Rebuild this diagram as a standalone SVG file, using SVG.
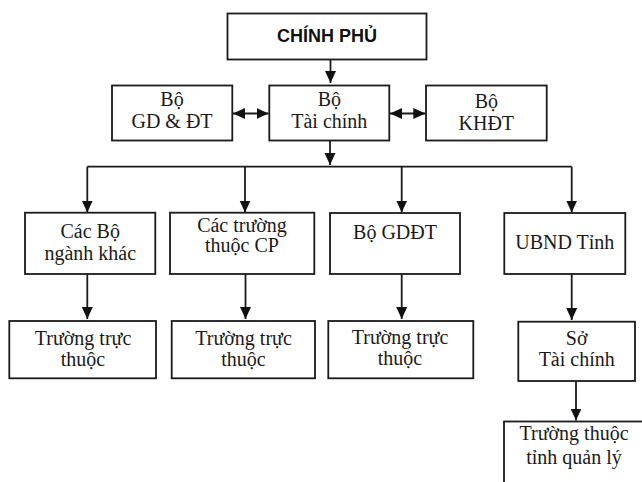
<svg xmlns="http://www.w3.org/2000/svg" width="642" height="482" viewBox="0 0 642 482">
<style>
.box{fill:#fff;stroke:#1a1a1a;stroke-width:1.8}
.t{font-family:"Liberation Serif","Times New Roman",serif;font-size:20px;fill:#1a1a1a;text-anchor:middle}
.h{font-family:"Liberation Sans",Arial,sans-serif;font-size:18px;font-weight:bold;fill:#111;text-anchor:middle}
.ln{fill:none;stroke:#1a1a1a;stroke-width:1.8}
</style>
<defs>
<marker id="ah" viewBox="0 0 12 12" refX="12" refY="6" markerWidth="12" markerHeight="12" markerUnits="userSpaceOnUse" orient="auto-start-reverse">
<path d="M0,0.5 L12,6 L0,11.5 z" fill="#111"/>
</marker>
</defs>
<rect width="642" height="482" fill="#fff"/>
<g id="connectors">
<path class="ln" d="M330.5 60 V83" marker-end="url(#ah)"/>
<path class="ln" d="M330 140 V165" marker-end="url(#ah)"/>
<path class="ln" d="M87.3 166.7 H571.7"/>
<path class="ln" d="M87.3 166.7 V212.5" marker-end="url(#ah)"/>
<path class="ln" d="M245 166.7 V212.5" marker-end="url(#ah)"/>
<path class="ln" d="M401.7 166.7 V212.5" marker-end="url(#ah)"/>
<path class="ln" d="M571.7 166.7 V212.5" marker-end="url(#ah)"/>
<path class="ln" d="M87.3 274 V319" marker-end="url(#ah)"/>
<path class="ln" d="M245.5 274 V319" marker-end="url(#ah)"/>
<path class="ln" d="M401.7 274 V319" marker-end="url(#ah)"/>
<path class="ln" d="M571.7 274 V320" marker-end="url(#ah)"/>
<path class="ln" d="M576 381 V420.5" marker-end="url(#ah)"/>
<path class="ln" d="M233 113.5 H268.5" marker-start="url(#ah)" marker-end="url(#ah)"/>
<path class="ln" d="M390 113.5 H425.3" marker-start="url(#ah)" marker-end="url(#ah)"/>
</g>
<g id="chinh-phu">
<rect class="box" x="227.5" y="13.5" width="199" height="46"/>
<text class="h" x="327" y="42">CHÍNH PHỦ</text>
</g>
<g id="bo-gddt-top">
<rect class="box" x="112" y="85.5" width="120.3" height="55"/>
<text class="t" x="172" y="106">Bộ</text>
<text class="t" x="172" y="128">GD &amp; ĐT</text>
</g>
<g id="bo-tai-chinh">
<rect class="box" x="269.3" y="85.5" width="120" height="55"/>
<text class="t" x="329.3" y="106">Bộ</text>
<text class="t" x="329.3" y="128">Tài chính</text>
</g>
<g id="bo-khdt">
<rect class="box" x="426" y="85.5" width="120.7" height="55"/>
<text class="t" x="486.3" y="108">Bộ</text>
<text class="t" x="486.3" y="130">KHĐT</text>
</g>
<g id="cac-bo-nganh-khac">
<rect class="box" x="25" y="212.7" width="130.3" height="61.3"/>
<text class="t" x="90.2" y="237.5">Các Bộ</text>
<text class="t" x="90.2" y="259.5">ngành khác</text>
</g>
<g id="cac-truong-thuoc-cp">
<rect class="box" x="170" y="212.7" width="144.3" height="61.3"/>
<text class="t" x="242" y="232">Các trường</text>
<text class="t" x="242" y="252">thuộc CP</text>
</g>
<g id="bo-gddt">
<rect class="box" x="330" y="213" width="130" height="61"/>
<text class="t" x="395" y="238.5">Bộ GDĐT</text>
</g>
<g id="ubnd-tinh">
<rect class="box" x="504.3" y="213" width="121" height="61"/>
<text class="t" x="564.8" y="248.5">UBND Tỉnh</text>
</g>
<g id="truong-truc-thuoc-1">
<rect class="box" x="9.3" y="321" width="146.7" height="57.3"/>
<text class="t" x="83" y="345">Trường trực</text>
<text class="t" x="83" y="366">thuộc</text>
</g>
<g id="truong-truc-thuoc-2">
<rect class="box" x="171.7" y="321" width="143.3" height="57.3"/>
<text class="t" x="243.5" y="345">Trường trực</text>
<text class="t" x="243.5" y="366">thuộc</text>
</g>
<g id="truong-truc-thuoc-3">
<rect class="box" x="328.3" y="321" width="145" height="57.3"/>
<text class="t" x="400" y="344">Trường trực</text>
<text class="t" x="400" y="365">thuộc</text>
</g>
<g id="so-tai-chinh">
<rect class="box" x="518.3" y="321.7" width="116.7" height="59.3"/>
<text class="t" x="576.7" y="345">Sở</text>
<text class="t" x="576.7" y="366">Tài chính</text>
</g>
<g id="truong-thuoc-tinh">
<rect class="box" x="504" y="421.5" width="160" height="100"/>
<text class="t" x="574" y="440">Trường thuộc</text>
<text class="t" x="574" y="464">tỉnh quản lý</text>
</g>
</svg>
